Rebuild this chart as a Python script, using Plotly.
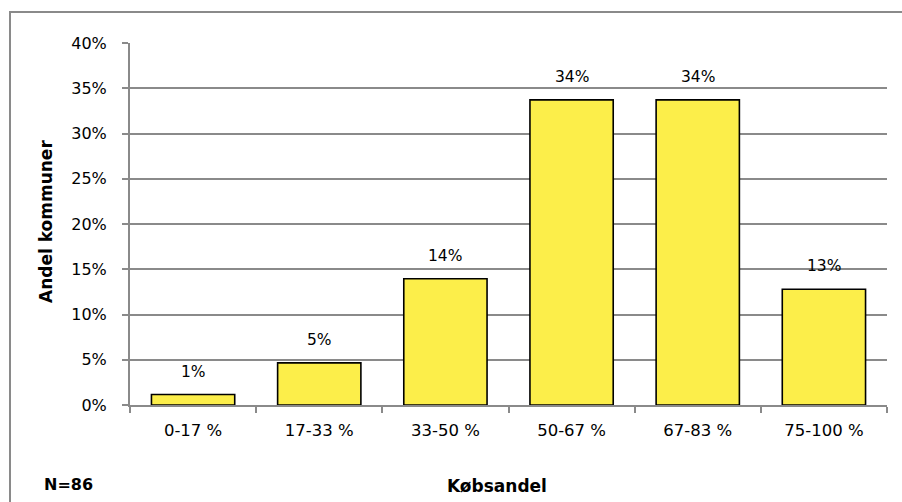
import plotly.graph_objects as go

categories = ["0-17 %", "17-33 %", "33-50 %", "50-67 %", "67-83 %", "75-100 %"]
values = [1.16, 4.65, 13.95, 33.72, 33.72, 12.79]
labels = ["1%", "5%", "14%", "34%", "34%", "13%"]
y_ticks = [0, 5, 10, 15, 20, 25, 30, 35, 40]
y_ticklabels = [f"{t}%" for t in y_ticks]

W, H = 902, 502
ml, mr, mt, mb = 130, 15, 43, 97
pw, ph = W - ml - mr, H - mt - mb

gray = "#8a8a8a"
font = "DejaVu Sans"

fig = go.Figure()
fig.add_trace(go.Bar(
    x=categories, y=values,
    marker=dict(color="#FCEE4A", line=dict(color="#000000", width=1.6)),
    hoverinfo="skip",
))

for c, v, t in zip(categories, values, labels):
    fig.add_annotation(x=c, y=v, text=t, showarrow=False, yanchor="middle",
                       yshift=23, font=dict(family=font, size=15.5, color="#000"))

def px_x(p):
    return (p - ml) / pw

def px_y(p):
    return (H - mb - p) / ph

# outer frame (cropped)
fig.add_shape(type="rect", xref="paper", yref="paper",
              x0=px_x(10), x1=px_x(W + 20), y0=px_y(H + 20), y1=px_y(12),
              line=dict(color=gray, width=2), layer="below")

fig.add_annotation(xref="paper", yref="paper", x=px_x(42), y=px_y(485),
                   xanchor="left", yanchor="middle", text="<b>N=86</b>",
                   showarrow=False, font=dict(family=font, size=16, color="#000"))
fig.add_annotation(xref="paper", yref="paper", x=px_x(497), y=px_y(486),
                   xanchor="center", yanchor="middle", text="<b>Købsandel</b>",
                   showarrow=False, font=dict(family=font, size=17, color="#000"))
fig.add_annotation(xref="paper", yref="paper", x=px_x(46), y=px_y(222),
                   xanchor="center", yanchor="middle", text="<b>Andel kommuner</b>",
                   textangle=-90, showarrow=False,
                   font=dict(family=font, size=17, color="#000"))

fig.update_layout(
    width=W, height=H,
    margin=dict(l=ml, r=mr, t=mt, b=mb, pad=0),
    paper_bgcolor="white", plot_bgcolor="white",
    bargap=0.34, showlegend=False,
    font=dict(family=font, size=16, color="#000"),
)
fig.update_xaxes(
    type="category", showline=True, linecolor=gray, linewidth=2,
    ticks="outside", tickson="boundaries", ticklen=6, tickcolor=gray, tickwidth=2,
    showgrid=False, tickfont=dict(family=font, size=16.5, color="#000"),
    ticklabelstandoff=9, fixedrange=True,
)
fig.update_yaxes(
    range=[0, 40], tickvals=y_ticks, ticktext=y_ticklabels,
    showline=True, linecolor=gray, linewidth=2,
    ticks="outside", ticklen=6, tickcolor=gray, tickwidth=2,
    showgrid=True, gridcolor=gray, gridwidth=1.6, zeroline=False,
    tickfont=dict(family=font, size=16, color="#000"),
    ticklabelstandoff=12, fixedrange=True,
)

fig.write_html(
    "out.html",
    config={"displayModeBar": False},
    post_script="document.body.style.margin='0';document.body.style.overflow='hidden';",
)
